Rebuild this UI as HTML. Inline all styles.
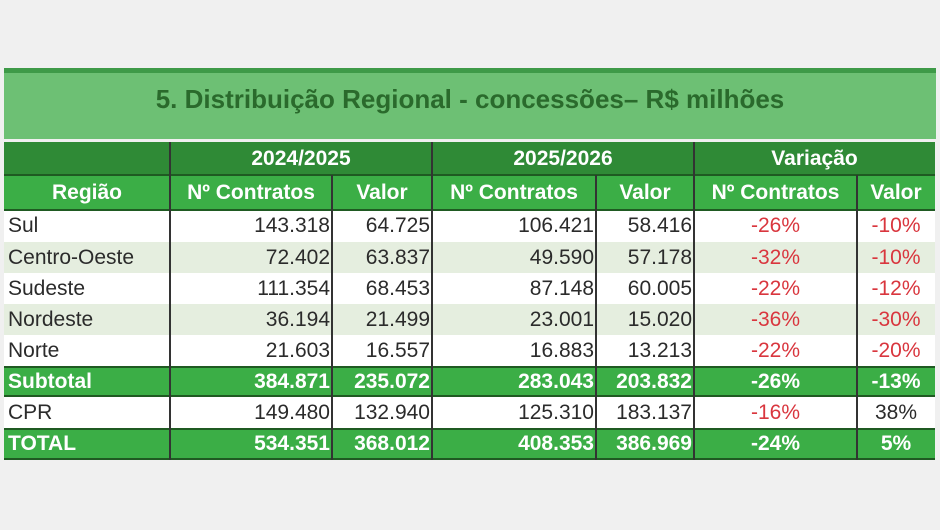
<!DOCTYPE html><html><head><meta charset="utf-8"><style>
body{margin:0;width:940px;height:530px;background:#f0f0f0;position:relative;overflow:hidden;font-family:"Liberation Sans",sans-serif}
.a{position:absolute;box-sizing:border-box}
.t{display:flex;align-items:center;white-space:nowrap;font-size:21px;color:#2b2b2b}
.r{justify-content:flex-end;padding-right:2px}.c{justify-content:center}.l{padding-left:4px}
.h{color:#fff;font-weight:bold}
.red{color:#d9363e}
</style></head><body>
<div class="a" style="left:4px;top:68px;width:932px;height:5px;background:#3e9a48"></div>
<div class="a" style="left:4px;top:73px;width:932px;height:66px;background:#6dc074"></div>
<div class="a t c" style="left:4px;top:80px;width:932px;height:38px;font-size:26px;font-weight:bold;color:#2a6a2c">5. Distribuição Regional - concessões– R$ milhões</div>
<div class="a" style="left:4px;top:210px;width:931px;height:250px;background:#fff"></div>
<div class="a" style="left:4px;top:142px;width:931px;height:33px;background:#2f8a36"></div>
<div class="a" style="left:4px;top:175px;width:931px;height:35px;background:#3bae46"></div>
<div class="a" style="left:4px;top:242px;width:931px;height:31px;background:#e5eedf"></div>
<div class="a" style="left:4px;top:304px;width:931px;height:31px;background:#e5eedf"></div>
<div class="a" style="left:4px;top:366px;width:931px;height:31px;background:#3bae46;border-top:2px solid #1f5a22;border-bottom:2px solid #1f5a22"></div>
<div class="a" style="left:4px;top:428px;width:931px;height:32px;background:#3bae46;border-top:2px solid #1f5a22;border-bottom:2px solid #1f5a22"></div>
<div class="a" style="left:4px;top:174px;width:931px;height:2px;background:#1f5a22"></div>
<div class="a" style="left:4px;top:209px;width:931px;height:2px;background:#1f5a22"></div>
<div class="a" style="left:169px;top:142px;width:2px;height:318px;background:#333"></div>
<div class="a" style="left:331px;top:175px;width:2px;height:285px;background:#333"></div>
<div class="a" style="left:431px;top:142px;width:2px;height:318px;background:#333"></div>
<div class="a" style="left:595px;top:175px;width:2px;height:285px;background:#333"></div>
<div class="a" style="left:693px;top:142px;width:2px;height:318px;background:#333"></div>
<div class="a" style="left:856px;top:175px;width:2px;height:285px;background:#333"></div>
<div class="a t c h" style="left:170px;top:142px;width:262px;height:33px">2024/2025</div>
<div class="a t c h" style="left:432px;top:142px;width:262px;height:33px">2025/2026</div>
<div class="a t c h" style="left:694px;top:142px;width:241px;height:33px">Variação</div>
<div id="g"></div>
<script>
const cols=[[4,170],[170,332],[332,432],[432,596],[596,694],[694,857],[857,935]];
const tops=[175,210,242,273,304,335,366,397,428,460];
const rows=[
["Região","Nº Contratos","Valor","Nº Contratos","Valor","Nº Contratos","Valor"],
["Sul","143.318","64.725","106.421","58.416","-26%","-10%"],
["Centro-Oeste","72.402","63.837","49.590","57.178","-32%","-10%"],
["Sudeste","111.354","68.453","87.148","60.005","-22%","-12%"],
["Nordeste","36.194","21.499","23.001","15.020","-36%","-30%"],
["Norte","21.603","16.557","16.883","13.213","-22%","-20%"],
["Subtotal","384.871","235.072","283.043","203.832","-26%","-13%"],
["CPR","149.480","132.940","125.310","183.137","-16%","38%"],
["TOTAL","534.351","368.012","408.353","386.969","-24%","5%"]];
let h="";
rows.forEach((r,i)=>{const hd=i==0||i==6||i==8;r.forEach((v,j)=>{
let cls="a t ";cls+= i==0?"c":(j==0?"l":(j>=5?"c":"r"));
if(hd)cls+=" h";else if(j>=5&&v[0]=="-")cls+=" red";
h+=`<div class="${cls}" style="left:${cols[j][0]}px;top:${tops[i]}px;width:${cols[j][1]-cols[j][0]}px;height:${tops[i+1]-tops[i]}px">${v}</div>`;})});
document.getElementById("g").innerHTML=h;
</script>
</body></html>
